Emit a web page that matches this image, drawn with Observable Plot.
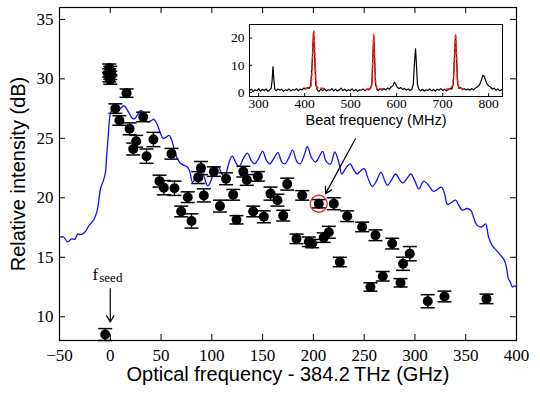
<!DOCTYPE html>
<html><head><meta charset="utf-8">
<script src="https://cdn.jsdelivr.net/npm/d3@7"></script>
<script src="https://cdn.jsdelivr.net/npm/@observablehq/plot@0.6"></script>
<style>
body{margin:0;background:#fff;}
#wrap{position:relative;width:540px;height:397px;overflow:hidden;}
#inset{position:absolute;left:210px;top:8px;}
</style></head><body>
<div id="wrap"><div id="main"></div><div id="inset"></div></div>
<script>
// ---- main chart data ----
const xTicks = [-50, 0, 50, 100, 150, 200, 250, 300, 350, 400];
const yTicks = [10, 15, 20, 25, 30, 35];
const xLabel = "Optical frequency - 384.2\u2009THz (GHz)";
const yLabel = "Relative intensity (dB)";

// measured points (GHz, dB, error)
const pointX = [-5, -1, 0, -1, 0, -1, 0, 16, 5, 9, 19, 25.5, 22.6, 32.4, 42.5, 35.7, 60.3, 48.5, 52.7, 63.2,
  69.8, 80, 76.3, 92.1, 86.6, 89.3, 102, 108, 114, 121, 124.3, 131, 134.4, 145.3, 140.7, 151.2, 157.8, 164.6, 170.3, 174.2,
  189, 205.3, 220.1, 183.4, 195.5, 198.8, 210.2, 215.2, 226, 233.3, 248, 261.1, 277.6, 294.9, 288.3, 268.3, 256.2, 285.8,
  312.6, 329.1, 370.4];
const pointY = [8.5, 30.9, 30.7, 30.5, 30.3, 30.1, 29.9, 28.8, 27.5, 26.5, 25.8, 24.75, 24.1, 26.8, 24.9, 23.5, 23.7, 21.4, 20.85, 20.8,
  18.85, 18.05, 20.05, 20.2, 21.7, 22.5, 22.2, 19.3, 21.6, 20.25, 18.15, 22.2, 21.5, 21.8, 18.85, 18.4, 20.35, 19.8, 18.5, 21.15,
  20.2, 19.5, 19.5, 16.55, 16.3, 16.15, 16.65, 17.1, 14.6, 18.45, 17.55, 16.85, 16.15, 15.3, 14.45, 13.4, 12.5, 12.85,
  11.3, 11.7, 11.5];
const pointErr = [0.5, 0.35, 0.35, 0.35, 0.35, 0.35, 0.35, 0.35, 0.4, 0.4, 0.5, 0.5, 0.5, 0.4, 0.6, 0.6, 0.45, 0.5, 0.6, 0.6,
  0.45, 0.6, 0.45, 0.55, 0.5, 0.55, 0.4, 0.5, 0.5, 0.45, 0.35, 0.45, 0.45, 0.4, 0.45, 0.5, 0.55, 0.5, 0.45, 0.5,
  0.4, 0.35, 0.5, 0.4, 0.4, 0.35, 0.4, 0.5, 0.4, 0.45, 0.4, 0.45, 0.45, 0.6, 0.55, 0.4, 0.35, 0.35,
  0.55, 0.45, 0.4];

// highlighted point
const circledX = [205.3];
const circledY = [19.5];

// blue spectrum
const blueX = [-50, -46, -42, -38, -35, -32, -29, -25, -21, -16, -13, -11, -9.5, -7, -5, -3.5, -2, -0.5, 1, 3.5,
  6, 8, 11, 13.5, 16, 19, 21.5, 24, 27, 30, 33, 36, 39.5, 43, 46, 49, 52, 55, 58, 61,
  63.5, 66, 69, 72, 75.5, 78, 81, 84, 87, 90, 93, 96, 99, 102, 106, 110, 113, 116, 120, 124,
  127, 131, 135, 139, 142, 146, 150, 154, 157, 161, 165, 169, 172, 176, 179.5, 184, 187, 191, 194, 198,
  202, 206, 209, 213, 217, 221, 225, 228, 232, 236, 240, 243, 247, 250, 254, 258, 262, 266.5, 270, 273,
  277, 281, 285, 288, 292, 296, 300, 304, 308.5, 313, 318, 322, 326, 329, 332, 336, 340, 343, 346.5, 351,
  355, 358, 361, 366, 369.5, 372.5, 376, 380, 384, 388, 390, 392, 394, 396, 398, 400];
const blueY = [16.7, 16.7, 16.3, 16.55, 16.5, 16.95, 16.9, 17.1, 17.65, 18.2, 18.9, 20.0, 20.8, 21.4, 22.0, 23.6, 25.2, 26.8, 27.3, 27.55,
  27.3, 27.35, 27.6, 27.75, 27.5, 27.05, 26.7, 26.65, 27.0, 27.35, 27.0, 26.4, 26.45, 26.6, 26.2, 25.5, 25.0, 25.1, 25.25, 24.7,
  23.9, 23.3, 22.9, 22.75, 22.6, 22.3, 21.3, 21.7, 22.0, 22.3, 21.6, 21.0, 21.4, 22.2, 22.6, 22.0, 21.8, 22.7, 23.5, 22.9,
  22.65, 23.3, 23.75, 23.1, 22.85, 23.3, 23.9, 23.1, 22.85, 23.3, 23.8, 23.0, 22.85, 23.4, 24.0, 23.0, 22.85, 23.6, 24.3, 23.4,
  23.0, 23.5, 23.9, 23.0, 22.85, 23.85, 23.0, 22.0, 22.5, 22.85, 22.3, 22.0, 22.3, 22.45, 21.6, 20.95, 21.4, 22.15, 21.5, 21.05,
  21.5, 22.0, 21.5, 21.25, 21.6, 22.0, 21.4, 20.75, 21.4, 21.1, 20.55, 20.7, 20.9, 20.4, 19.45, 19.6, 19.8, 19.4, 18.95, 19.1,
  18.95, 18.3, 17.7, 17.55, 17.8, 16.7, 16.0, 15.6, 15.2, 14.75, 14.2, 13.2, 12.9, 12.5, 12.6, 12.5];

// annotations
const calloutX1 = [241.4], calloutY1 = [24.97], calloutX2 = [212], calloutY2 = [20.35];
const seedX = [0], seedArrowY1 = [12.36], seedArrowY2 = [9.55], seedLabelY = [13.12];
const seedMain = ["f"], seedSub = ["seed"];

// ---- inset data ----
const insetXTicks = [300, 400, 500, 600, 700, 800];
const insetYTicks = [0, 10, 20];
const insetLabel = "Beat frequency (MHz)";
const beatX = [280, 284, 288, 292, 296, 300, 304, 308, 312, 316, 320, 324, 327, 329, 331, 333, 335, 338, 342, 346,
  350, 354, 358, 362, 366, 370, 374, 378, 382, 386, 390, 394, 398, 402, 406, 410, 413, 416, 419, 422,
  424, 427, 431, 435, 439, 443, 447, 451, 455, 459, 463, 467, 471, 475, 479, 483, 487, 491, 495, 499,
  503, 507, 511, 515, 519, 523, 527, 531, 535, 539, 543, 546, 548, 550, 552, 554, 557, 560, 564, 568,
  572, 576, 580, 584, 588, 592, 595, 598, 601, 605, 609, 613, 617, 621, 625, 629, 633, 636, 639, 641,
  643, 645, 648, 652, 656, 660, 664, 668, 672, 676, 680, 684, 688, 692, 696, 700, 704, 708, 712, 716,
  720, 723, 726, 728, 730, 732, 735, 739, 743, 747, 751, 755, 759, 763, 767, 771, 775, 779, 782, 785,
  787, 790, 793, 796, 800, 804, 808, 812, 816, 820, 824, 828, 830];
const beatY = [0.8, 1.2, 0.3, 1.0, 0.6, 1.4, 0.5, 1.1, 0.7, 1.3, 0.4, 1.0, 1.5, 4, 9.5, 5, 1.2, 0.6, 1.3, 0.8,
  1.2, 0.4, 1.0, 0.7, 1.3, 0.5, 1.1, 0.8, 1.4, 0.6, 1.2, 0.9, 1.6, 1.2, 1.8, 1.5, 2.5, 10, 22, 12,
  3, 1.0, 0.4, 1.2, 0.7, 1.3, 0.5, 1.0, 0.8, 1.4, 0.6, 1.2, 0.5, 1.0, 1.6, 0.7, 1.2, 0.5, 1.0, 0.7,
  1.3, 0.6, 1.1, 0.4, 1.0, 0.8, 1.3, 0.6, 1.2, 0.9, 1.5, 3, 12, 20.5, 12, 3, 1.2, 0.7, 1.3, 0.8,
  1.4, 1.0, 1.6, 1.2, 2.0, 2.5, 3.8, 3.0, 2.0, 1.4, 1.8, 1.0, 1.5, 0.8, 1.3, 0.7, 1.2, 3, 12, 16,
  10, 3, 1.2, 0.6, 1.1, 0.5, 1.0, 0.7, 1.3, 0.6, 1.1, 0.5, 1.2, 0.8, 1.4, 0.7, 1.2, 0.6, 1.0, 1.5,
  1.2, 3, 15, 21, 13, 4, 1.5, 1.8, 1.0, 1.4, 0.9, 1.3, 0.8, 1.4, 1.0, 1.6, 2.0, 2.6, 3.5, 5,
  6.3, 6.0, 4.5, 3.2, 2.4, 2.0, 1.2, 1.6, 0.8, 1.3, 0.6, 1.0, 0.8];
// fitted peaks (red dashed), grouped by peak
const fitPeak = [1, 1, 1, 1, 1, 1, 1, 1, 1, 1, 1, 2, 2, 2, 2, 2, 2, 2, 2, 2, 2, 3, 3, 3, 3, 3, 3, 3, 3, 3, 3, 3];
const fitX = [402, 410, 414, 416, 418, 420, 422, 424, 426, 430, 440,
  535, 543, 546, 548, 550, 552, 554, 557, 565, 572,
  708, 716, 722, 725, 727, 728, 730, 732, 735, 740, 746];
const fitY = [1.5, 1.6, 2.5, 8, 18, 22.5, 15, 5, 2, 1.6, 1.5,
  1.2, 1.4, 3, 12, 21.5, 13, 4, 1.6, 1.3, 1.2,
  1.2, 1.4, 2.5, 9, 18, 21.5, 14, 5, 2, 1.4, 1.2];

// ---- build tables ----
const points = pointX.map((x, i) => ({x, y: pointY[i], e: pointErr[i]}));
const blue = blueX.map((x, i) => ({x, y: blueY[i]}));
const circled = circledX.map((x, i) => ({x, y: circledY[i]}));
const callout = calloutX1.map((x, i) => ({x1: x, y1: calloutY1[i], x2: calloutX2[i], y2: calloutY2[i]}));
const seedArrow = seedX.map((x, i) => ({x, y1: seedArrowY1[i], y2: seedArrowY2[i]}));
const seedText = seedX.map((x, i) => ({x, y: seedLabelY[i], main: seedMain[i], sub: seedSub[i]}));
const beat = beatX.map((x, i) => ({x, y: beatY[i]}));
const fit = fitX.map((x, i) => ({x, y: fitY[i], k: fitPeak[i]}));

const cap = {draw(context, size) { const h = Math.sqrt(size / Math.PI); context.moveTo(-h, 0); context.lineTo(h, 0); }};

// main frame size in px (for inward tick marks)
const W = 540, H = 397, mL = 59, mR = 24, mT = 7, mB = 57;
const fw = W - mL - mR, fh = H - mT - mB, tk = 6;

const main = Plot.plot({
  width: W, height: H,
  marginLeft: mL, marginRight: mR, marginTop: mT, marginBottom: mB,
  x: {domain: [-50, 400]},
  y: {domain: [8, 36]},
  style: {fontFamily: "'Liberation Serif', serif", fontSize: "17px", color: "black", background: "white", overflow: "visible"},
  marks: [
    Plot.line(blue, {x: "x", y: "y", stroke: "#1010ff", strokeWidth: 1.3, curve: "catmull-rom"}),
    Plot.ruleX(points, {x: "x", y1: d => d.y - d.e, y2: d => d.y + d.e, stroke: "black", strokeWidth: 1.4}),
    Plot.dot(points, {x: "x", y: d => d.y + d.e, symbol: cap, r: 7, fill: "none", stroke: "black", strokeWidth: 1.5}),
    Plot.dot(points, {x: "x", y: d => d.y - d.e, symbol: cap, r: 7, fill: "none", stroke: "black", strokeWidth: 1.5}),
    Plot.dot(points, {x: "x", y: "y", r: 5, fill: "black", stroke: "none"}),
    Plot.dot(circled, {x: "x", y: "y", r: 8.5, fill: "none", stroke: "#e8202a", strokeWidth: 1.3}),
    Plot.arrow(callout, {x1: "x1", y1: "y1", x2: "x2", y2: "y2", stroke: "black", strokeWidth: 1.2, headLength: 9, inset: 0}),
    Plot.arrow(seedArrow, {x1: "x", y1: "y1", x2: "x", y2: "y2", stroke: "black", strokeWidth: 1.2, headLength: 9, inset: 0}),
    Plot.text(seedText, {x: "x", y: "y", text: "main", textAnchor: "end", lineAnchor: "bottom", dx: -12, fontSize: 17, fontFamily: "'Liberation Serif', serif"}),
    Plot.text(seedText, {x: "x", y: "y", text: "sub", textAnchor: "start", lineAnchor: "bottom", dx: -11, dy: 2, fontSize: 13, fontFamily: "'Liberation Serif', serif"}),
    // inward ticks on all four sides
    Plot.tickX(xTicks, {x: d => d, insetTop: fh - tk, stroke: "black", strokeWidth: 1}),
    Plot.tickX(xTicks, {x: d => d, insetBottom: fh - tk, stroke: "black", strokeWidth: 1}),
    Plot.tickY(yTicks, {y: d => d, insetRight: fw - tk, stroke: "black", strokeWidth: 1}),
    Plot.tickY(yTicks, {y: d => d, insetLeft: fw - tk, stroke: "black", strokeWidth: 1}),
    Plot.frame({stroke: "black", strokeWidth: 1.2}),
    Plot.axisX({ticks: xTicks, tickSize: 0, tickPadding: 8, label: null}),
    Plot.axisY({ticks: yTicks, tickSize: 0, tickPadding: 6, label: null}),
    Plot.text([xLabel], {text: d => d, frameAnchor: "bottom", dy: 34, textAnchor: "middle", lineAnchor: "middle", fontFamily: "'Liberation Sans', sans-serif", fontSize: 20}),
    Plot.text([yLabel], {text: d => d, frameAnchor: "left", dx: -41, rotate: -90, textAnchor: "middle", lineAnchor: "middle", fontFamily: "'Liberation Sans', sans-serif", fontSize: 20})
  ]
});
document.getElementById("main").appendChild(main);

const iW = 310, iH = 125, iL = 39, iR = 18, iT = 16, iB = 37;
const ifw = iW - iL - iR, ifh = iH - iT - iB, itk = 3;
const inset = Plot.plot({
  width: iW, height: iH,
  marginLeft: iL, marginRight: iR, marginTop: iT, marginBottom: iB,
  x: {domain: [280, 830]},
  y: {domain: [-1.5, 25]},
  style: {fontFamily: "'Liberation Serif', serif", fontSize: "13.5px", color: "black", background: "transparent", overflow: "visible"},
  marks: [
    Plot.frame({fill: "white", stroke: "none"}),
    Plot.line(beat, {x: "x", y: "y", stroke: "black", strokeWidth: 1.2}),
    Plot.line(fit, {x: "x", y: "y", z: "k", stroke: "#ff1a1a", strokeWidth: 1.5, strokeDasharray: "3,2.5"}),
    Plot.tickX(insetXTicks, {x: d => d, insetTop: ifh - itk, stroke: "black"}),
    Plot.tickY(insetYTicks, {y: d => d, insetRight: ifw - itk, stroke: "black"}),
    Plot.frame({stroke: "black", strokeWidth: 1}),
    Plot.axisX({ticks: insetXTicks, tickSize: 0, tickPadding: 2, label: null}),
    Plot.axisY({ticks: insetYTicks, tickSize: 0, tickPadding: 5, label: null}),
    Plot.text([insetLabel], {text: d => d, frameAnchor: "bottom", dy: 28, textAnchor: "middle", lineAnchor: "bottom", fontFamily: "'Liberation Sans', sans-serif", fontSize: 14.5})
  ]
});
document.getElementById("inset").appendChild(inset);
</script></body></html>
